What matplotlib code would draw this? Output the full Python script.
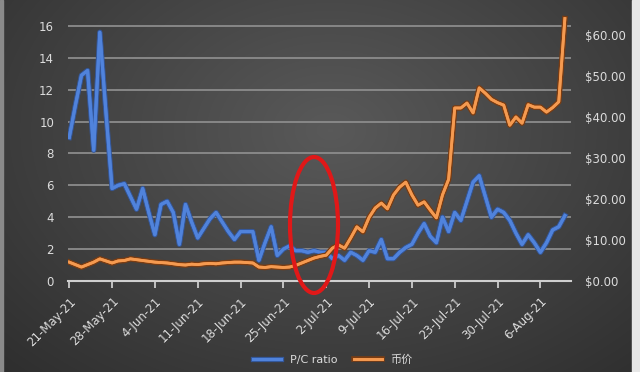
import numpy as np
import pandas as pd
import matplotlib
matplotlib.use("Agg")
import matplotlib.pyplot as plt
import matplotlib.patheffects as pe
from matplotlib.patches import Ellipse, Rectangle

# daily values, 21-May-21 .. 10-Aug-21
dates = pd.date_range("2021-05-21", periods=82, freq="D")

pc_ratio = [
    9.0, 11.0, 12.9, 13.2, 8.2, 15.6, 10.6, 5.8, 6.0, 6.1,
    5.3, 4.5, 5.8, 4.3, 2.9, 4.8, 5.0, 4.3, 2.3, 4.8,
    3.7, 2.7, 3.3, 3.9, 4.3, 3.7, 3.1, 2.6, 3.1, 3.1,
    3.1, 1.3, 2.4, 3.4, 1.6, 2.0, 2.2, 1.9, 1.9, 1.8,
    1.9, 1.8, 1.8, 1.4, 1.6, 1.3, 1.8, 1.6, 1.3, 1.9,
    1.8, 2.6, 1.4, 1.4, 1.8, 2.1, 2.3, 3.0, 3.6, 2.8,
    2.4, 4.0, 3.1, 4.3, 3.8, 5.0, 6.2, 6.6, 5.3, 4.0,
    4.5, 4.3, 3.8, 3.0, 2.3, 2.9, 2.4, 1.8, 2.4, 3.2,
    3.4, 4.1,
]

price = [
    4.6, 4.0, 3.4, 4.0, 4.6, 5.4, 4.9, 4.4, 4.9, 5.0,
    5.4, 5.2, 5.0, 4.8, 4.6, 4.5, 4.4, 4.2, 4.0, 3.9,
    4.1, 4.0, 4.2, 4.3, 4.2, 4.4, 4.5, 4.6, 4.6, 4.5,
    4.4, 3.4, 3.3, 3.5, 3.4, 3.3, 3.4, 3.8, 4.4, 5.0,
    5.6, 6.0, 6.3, 8.0, 8.8, 8.0, 10.5, 13.2, 12.0, 15.5,
    17.8, 19.0, 17.6, 21.0, 22.9, 24.1, 21.0, 18.5, 19.3, 17.3,
    15.4, 21.0, 24.8, 42.2, 42.2, 43.4, 41.0, 47.1, 45.8, 44.3,
    43.5, 42.9, 38.0, 40.0, 38.5, 43.0, 42.4, 42.4, 41.2, 42.3,
    43.7, 64.0,
]

legend_labels = ["P/C ratio", "币价"]
grid_levels = [2, 4, 6, 8, 10, 12, 14, 16]

W, H = 640, 372
fig = plt.figure(figsize=(6.4, 3.72), dpi=100)
fig.patch.set_facecolor("#3c3c3c")

# dark radial background, drawn as a figure image
yy, xx = np.mgrid[0:H, 0:W]
r = np.sqrt(((xx - 330) / 420.0) ** 2 + ((yy - 130) / 300.0) ** 2)
shade = np.clip(0.35 - 0.15 * r, 0.18, 0.35)
fig.figimage(np.dstack([shade] * 3)[::-1], xo=0, yo=0, zorder=-10, origin="lower")

x = np.arange(len(dates))
ax = fig.add_axes([68 / W, 91 / H, 503 / W, 287 / H])
ax.set_facecolor("none")
ax.set_xlim(-0.2, 82.0)
ax.set_ylim(0, 18)
ax.set_yticks(range(0, 17, 2))
for s in ["top", "left", "right"]:
    ax.spines[s].set_visible(False)
ax.spines["bottom"].set_color("#cfcfcf")
ax.spines["bottom"].set_linewidth(1.5)
for v in grid_levels:
    ax.axhline(v, color="#8c8c8c", lw=1.3, zorder=1)

ax2 = ax.twinx()
ax2.set_ylim(0, 70)
ax2.set_yticks(range(0, 61, 10))
ax2.set_yticklabels(["${:.2f}".format(v) for v in range(0, 61, 10)])
for s in ["top", "left", "right", "bottom"]:
    ax2.spines[s].set_visible(False)

lb, = ax.plot(x, pc_ratio, color="#5083dc", lw=2.2, zorder=4,
              path_effects=[pe.withStroke(linewidth=3.8, foreground="#34579a"), pe.Normal()],
              label=legend_labels[0])
lo, = ax2.plot(x, price, color="#f59a50", lw=2.0, zorder=5,
               path_effects=[pe.withStroke(linewidth=4.0, foreground="#7a3c12"), pe.Normal()],
               label=legend_labels[1])

tick_pos = x[::7]
ax.set_xticks(tick_pos)
ax.set_xticklabels([f"{d.day}-{d.strftime('%b')}-21" for d in dates[::7]],
                   rotation=45, ha="right", rotation_mode="anchor")
ax.tick_params(axis="x", colors="#d8d8d8", length=5, width=1.2, labelsize=8.5, pad=5)
ax.tick_params(axis="y", colors="#d8d8d8", length=0, labelsize=8.5, pad=10)
ax2.tick_params(axis="y", colors="#d8d8d8", length=0, labelsize=8.5, pad=10)
for lab in ax.get_xticklabels() + ax.get_yticklabels() + ax2.get_yticklabels():
    lab.set_color("#dcdcdc")

# light borders of the screenshot
fig.add_artist(Rectangle((632 / W, 0), 8 / W, 1, transform=fig.transFigure,
                         color="#e6e6e6", zorder=5))
fig.add_artist(Rectangle((0, 0), 3 / W, 1, transform=fig.transFigure,
                         color="#8a8a8a", zorder=5))

# red hand-drawn ellipse marking the crossover
fig.add_artist(Ellipse((314 / W, 1 - 225 / H), 48 / W, 136 / H,
                       transform=fig.transFigure, fill=False,
                       edgecolor="#e01818", lw=3, zorder=6))

leg = fig.legend(handles=[lb, lo], loc="lower center", bbox_to_anchor=(0.52, 0.0),
                 ncol=2, frameon=False, labelcolor="#dcdcdc", handlelength=2.5,
                 borderpad=0.1, columnspacing=1.5,
                 prop={"family": ["DejaVu Sans", "Noto Sans CJK SC"], "size": 8})

fig.savefig("out.png", dpi=100, facecolor=fig.get_facecolor())
